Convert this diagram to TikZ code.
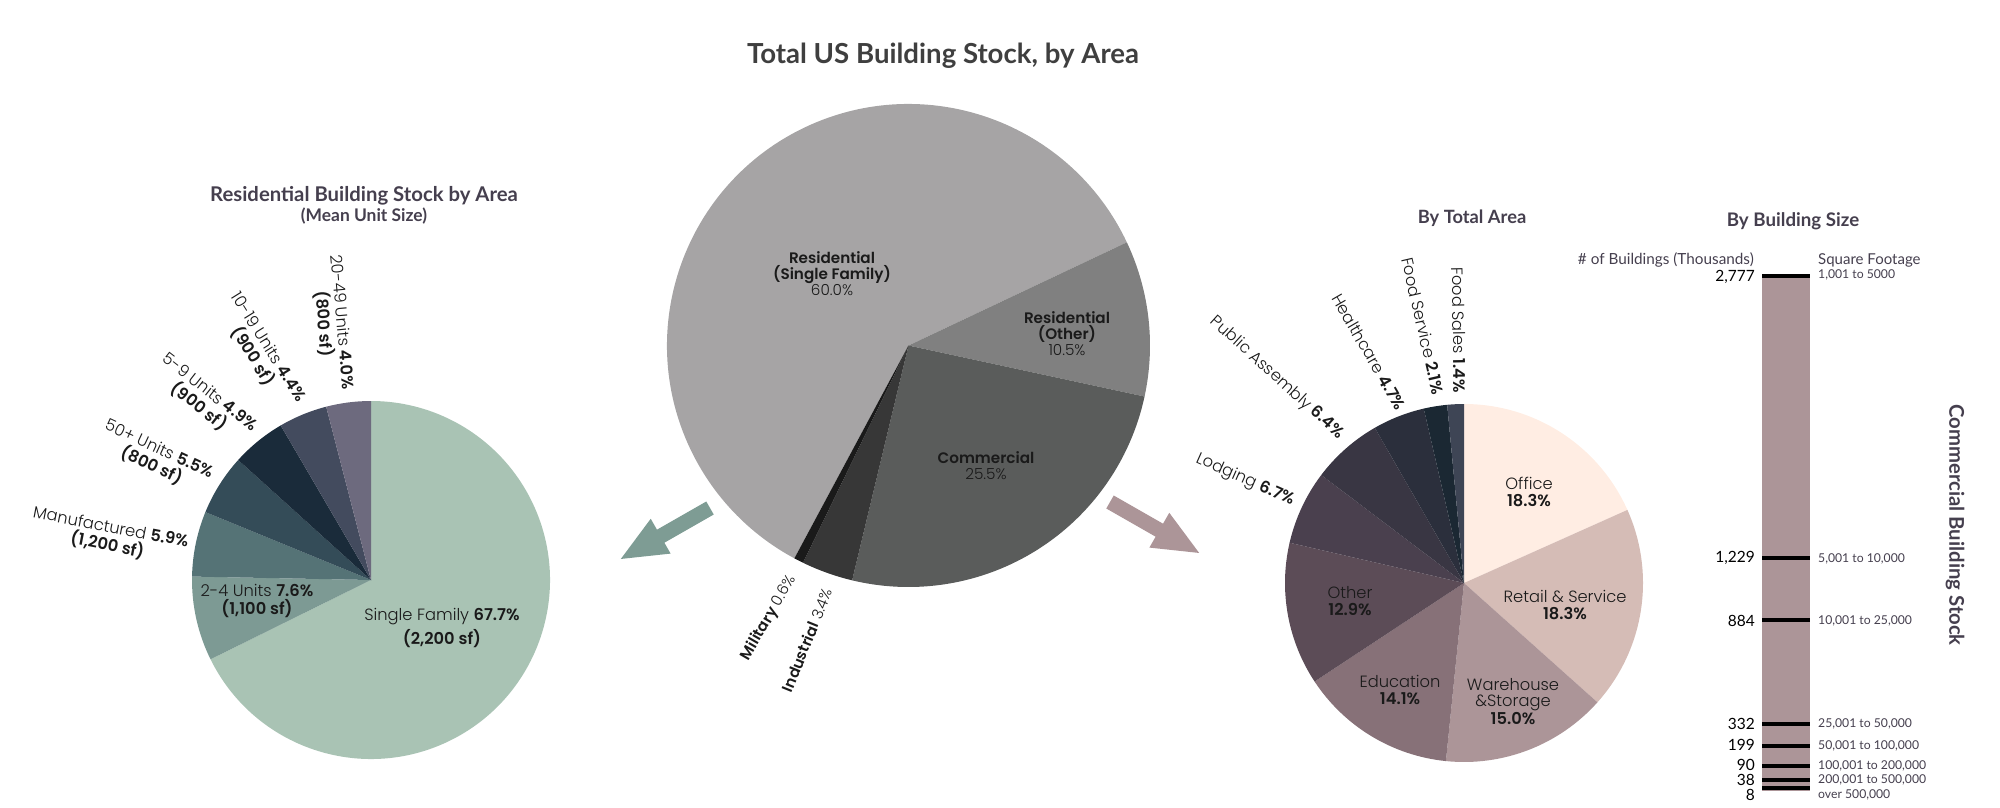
\documentclass[tikz,border=0pt]{standalone}
\usepackage{fontspec}
\usetikzlibrary{arrows.meta}
\setmainfont{Poppins Light}[BoldFont={Poppins SemiBold}]
\newfontfamily\headfont{Lato}[BoldFont={Lato Bold}]
\definecolor{headcol}{HTML}{453F4E}
\definecolor{titlecol}{HTML}{3F3F3F}
\definecolor{inkcol}{HTML}{1A1A1A}
\definecolor{barcol}{HTML}{AC9598}
\definecolor{arrowcol}{HTML}{7E9C94}

\begin{document}
\begin{tikzpicture}[x=1pt,y=-1pt,
    lbl/.style={text=inkcol,inner sep=0pt,align=center,font=\fontsize{16.3}{18.5}\selectfont},
    lblc/.style={text=inkcol,inner sep=0pt,align=center,font=\fontsize{16.3}{16.2}\selectfont},
    mid/.style={text=inkcol,inner sep=0pt,align=center,font=\fontsize{15.2}{16}\selectfont},
    heading/.style={text=headcol,inner sep=0pt,align=center,font=\headfont\bfseries\fontsize{18.3}{22}\selectfont},
    bighead/.style={text=headcol,inner sep=0pt,align=center,font=\headfont\bfseries\fontsize{20.3}{22}\selectfont},
    small/.style={text=headcol,inner sep=0pt,anchor=west,font=\headfont\fontsize{12.2}{15}\selectfont},
    num/.style={text=black,inner sep=0pt,anchor=east,font=\headfont\fontsize{15.5}{18}\selectfont},
    tick/.style={line width=3.6pt,black},
    bigarrow/.style={-{Triangle[length=48pt,width=36pt]},line width=15pt}]

    \useasboundingbox (0,0) rectangle (2000,808);

    \coordinate (total) at (908.5,345.5);
    \coordinate (resi) at (371,580);
    \coordinate (comm) at (1464,583);

    % total pie
    \fill[fill={rgb,255:red,166;green,164;blue,165}] (total) -- ++(25.3:241.5pt) arc[start angle=25.3,end angle=241.8,radius=241.5pt] -- cycle;
    \fill[fill={rgb,255:red,128;green,128;blue,128}] (total) -- ++(-12.2:241.5pt) arc[start angle=-12.2,end angle=25.3,radius=241.5pt] -- cycle;
    \fill[fill={rgb,255:red,90;green,92;blue,91}] (total) -- ++(-103.5:241.5pt) arc[start angle=-103.5,end angle=-12.2,radius=241.5pt] -- cycle;
    \fill[fill={rgb,255:red,55;green,55;blue,55}] (total) -- ++(-115.9:241.5pt) arc[start angle=-115.9,end angle=-103.5,radius=241.5pt] -- cycle;
    \fill[fill={rgb,255:red,26;green,26;blue,26}] (total) -- ++(-118.2:241.5pt) arc[start angle=-118.2,end angle=-115.9,radius=241.5pt] -- cycle;

    % residential pie
    \fill[fill={rgb,255:red,169;green,195;blue,180}] (resi) -- ++(-153.7:179pt) arc[start angle=-153.7,end angle=90,radius=179pt] -- cycle;
    \fill[fill={rgb,255:red,125;green,154;blue,148}] (resi) -- ++(178.9:179pt) arc[start angle=178.9,end angle=206.3,radius=179pt] -- cycle;
    \fill[fill={rgb,255:red,85;green,115;blue,118}] (resi) -- ++(157.7:179pt) arc[start angle=157.7,end angle=178.9,radius=179pt] -- cycle;
    \fill[fill={rgb,255:red,52;green,76;blue,88}] (resi) -- ++(137.9:179pt) arc[start angle=137.9,end angle=157.7,radius=179pt] -- cycle;
    \fill[fill={rgb,255:red,26;green,43;blue,58}] (resi) -- ++(120.3:179pt) arc[start angle=120.3,end angle=137.9,radius=179pt] -- cycle;
    \fill[fill={rgb,255:red,67;green,75;blue,94}] (resi) -- ++(104.5:179pt) arc[start angle=104.5,end angle=120.3,radius=179pt] -- cycle;
    \fill[fill={rgb,255:red,109;green,106;blue,126}] (resi) -- ++(90:179pt) arc[start angle=90,end angle=104.5,radius=179pt] -- cycle;

    % commercial pie
    \fill[fill={rgb,255:red,255;green,237;blue,227}] (comm) -- ++(24.1:179pt) arc[start angle=24.1,end angle=90,radius=179pt] -- cycle;
    \fill[fill={rgb,255:red,213;green,188;blue,182}] (comm) -- ++(-41.8:179pt) arc[start angle=-41.8,end angle=24.1,radius=179pt] -- cycle;
    \fill[fill={rgb,255:red,172;green,149;blue,152}] (comm) -- ++(-95.8:179pt) arc[start angle=-95.8,end angle=-41.8,radius=179pt] -- cycle;
    \fill[fill={rgb,255:red,135;green,113;blue,120}] (comm) -- ++(-146.6:179pt) arc[start angle=-146.6,end angle=-95.8,radius=179pt] -- cycle;
    \fill[fill={rgb,255:red,92;green,76;blue,87}] (comm) -- ++(-193:179pt) arc[start angle=-193,end angle=-146.6,radius=179pt] -- cycle;
    \fill[fill={rgb,255:red,74;green,64;blue,78}] (comm) -- ++(-217.1:179pt) arc[start angle=-217.1,end angle=-193,radius=179pt] -- cycle;
    \fill[fill={rgb,255:red,57;green,54;blue,67}] (comm) -- ++(-240.1:179pt) arc[start angle=-240.1,end angle=-217.1,radius=179pt] -- cycle;
    \fill[fill={rgb,255:red,43;green,47;blue,60}] (comm) -- ++(-257:179pt) arc[start angle=-257,end angle=-240.1,radius=179pt] -- cycle;
    \fill[fill={rgb,255:red,27;green,40;blue,51}] (comm) -- ++(-264.6:179pt) arc[start angle=-264.6,end angle=-257,radius=179pt] -- cycle;
    \fill[fill={rgb,255:red,62;green,69;blue,85}] (comm) -- ++(-270:179pt) arc[start angle=-270,end angle=-264.6,radius=179pt] -- cycle;

    % arrows
    \coordinate (tealtail) at (710,508);
    \coordinate (tealtip) at (619,560);
    \coordinate (mauvetail) at (1110,502);
    \coordinate (mauvetip) at (1201,554);
    \draw[bigarrow,arrowcol] (tealtail) -- (tealtip);
    \draw[bigarrow,barcol] (mauvetail) -- (mauvetip);

    % titles
    \node[heading,text=titlecol,font=\headfont\bfseries\fontsize{27.6}{30}\selectfont] (title) at (943,56) {Total US Building Stock, by Area};
    \node[bighead] (resititle) at (364,205) {Residential Building Stock by Area\\[-2pt]{\fontsize{17.4}{20}\selectfont (Mean Unit Size)}};
    \node[heading] (areatitle) at (1472,218) {By Total Area};
    \node[heading,font=\headfont\bfseries\fontsize{18.7}{22}\selectfont] (sizetitle) at (1793,221) {By Building Size};
    \node[bighead,rotate=-90] (commtitle) at (1955,525) {Commercial Building Stock};

    % total labels
    \node[mid] (singlefam) at (832,274) {\textbf{Residential}\\\textbf{(Single Family)}\\60.0\%};
    \node[mid] (otherres) at (1067,334) {\textbf{Residential}\\\textbf{(Other)}\\10.5\%};
    \node[mid] (commercial) at (986,466) {\textbf{Commercial}\\25.5\%};
    \node[mid,rotate=60] (military) at (769,618) {\textbf{Military} 0.6\%};
    \node[mid,rotate=68] (industrial) at (807,640) {\textbf{Industrial} 3.4\%};

    % residential labels
    \node[lbl] (family) at (442,628) {Single Family \textbf{67.7\%}\\[3pt]\textbf{(2,200 sf)}};
    \node[lbl] (two) at (257,601) {2-4 Units \textbf{7.6\%}\\\textbf{(1,100 sf)}};
    \node[lbl,rotate=-11] (manuf) at (109,537) {Manufactured \textbf{5.9\%}\\\textbf{(1,200 sf)}};
    \node[lbl,rotate=-25] (fifty) at (155,458) {50+ Units \textbf{5.5\%}\\\textbf{(800 sf)}};
    \node[lbl,rotate=-38] (five) at (204,400) {5-9 Units \textbf{4.9\%}\\\textbf{(900 sf)}};
    \node[lbl,rotate=-58] (ten) at (260,352) {10-19 Units \textbf{4.4\%}\\\textbf{(900 sf)}};
    \node[lbl,rotate=-85] (twenty) at (332,323) {20-49 Units \textbf{4.0\%}\\\textbf{(800 sf)}};

    % commercial labels
    \node[lblc] (office) at (1529,492) {Office\\\textbf{18.3\%}};
    \node[lblc] (retail) at (1565,605) {Retail \& Service\\\textbf{18.3\%}};
    \node[lblc] (ware) at (1513,701.5) {Warehouse\\\&Storage\\\textbf{15.0\%}};
    \node[lblc] (educ) at (1400,690) {Education\\\textbf{14.1\%}};
    \node[lblc] (othercomm) at (1350,601) {Other\\\textbf{12.9\%}};
    \node[lbl,rotate=-24] (lodging) at (1245,480) {Lodging \textbf{6.7\%}};
    \node[lbl,rotate=-42] (assembly) at (1277,378) {Public Assembly \textbf{6.4\%}};
    \node[lbl,rotate=-60] (health) at (1369,352) {Healthcare \textbf{4.7\%}};
    \node[lbl,rotate=-77] (foodserv) at (1423,326) {Food Service \textbf{2.1\%}};
    \node[lbl,rotate=-89] (foodsales) at (1459,330) {Food Sales \textbf{1.4\%}};

    % size bar
    \node[fill=barcol,minimum width=48pt,minimum height=515pt,inner sep=0pt] (bar) at (1786,533.5) {};
    \coordinate (tl1) at (1762,276); \coordinate (tr1) at (1810,276);
    \coordinate (tl2) at (1762,558); \coordinate (tr2) at (1810,558);
    \coordinate (tl3) at (1762,620); \coordinate (tr3) at (1810,620);
    \coordinate (tl4) at (1762,724); \coordinate (tr4) at (1810,724);
    \coordinate (tl5) at (1762,746); \coordinate (tr5) at (1810,746);
    \coordinate (tl6) at (1762,766); \coordinate (tr6) at (1810,766);
    \coordinate (tl7) at (1762,780); \coordinate (tr7) at (1810,780);
    \coordinate (tl8) at (1762,788); \coordinate (tr8) at (1810,788);
    \draw[tick] (tl1) -- (tr1);
    \draw[tick] (tl2) -- (tr2);
    \draw[tick] (tl3) -- (tr3);
    \draw[tick] (tl4) -- (tr4);
    \draw[tick] (tl5) -- (tr5);
    \draw[tick] (tl6) -- (tr6);
    \draw[tick] (tl7) -- (tr7);
    \draw[tick] (tl8) -- (tr8);

    \node[small,anchor=east,font=\headfont\fontsize{15.3}{17}\selectfont] (numhead) at (1754,260) {\# of Buildings (Thousands)};
    \node[small,font=\headfont\fontsize{15}{17}\selectfont] (sqhead) at (1818,260) {Square Footage};

    \node[num] (n1) at (1755,277) {2,777};
    \node[num] (n2) at (1755,558) {1,229};
    \node[num] (n3) at (1755,621) {884};
    \node[num] (n4) at (1755,724) {332};
    \node[num] (n5) at (1755,745) {199};
    \node[num] (n6) at (1755,765) {90};
    \node[num] (n7) at (1755,780) {38};
    \node[num] (n8) at (1755,795) {8};

    \node[small] (s1) at (1818,275) {1,001 to 5000};
    \node[small] (s2) at (1818,559) {5,001 to 10,000};
    \node[small] (s3) at (1818,621) {10,001 to 25,000};
    \node[small] (s4) at (1818,724) {25,001 to 50,000};
    \node[small] (s5) at (1818,746) {50,001 to 100,000};
    \node[small] (s6) at (1818,766) {100,001 to 200,000};
    \node[small] (s7) at (1818,780) {200,001 to 500,000};
    \node[small] (s8) at (1818,795) {over 500,000};
\end{tikzpicture}
\end{document}
